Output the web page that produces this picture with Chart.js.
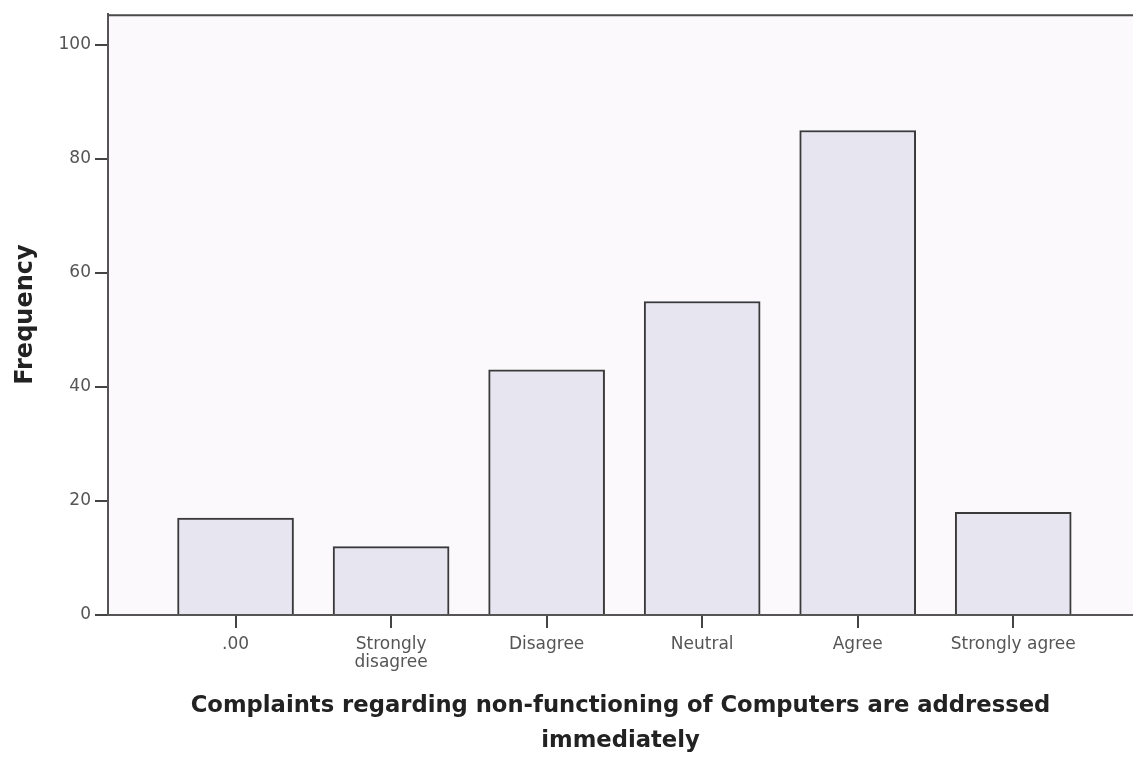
<!DOCTYPE html>
<html>
<head>
<meta charset="utf-8">
<script src="https://cdn.jsdelivr.net/npm/chart.js@4"></script>
<style>
    html, body { margin: 0; padding: 0; background: #ffffff; }
    #wrap { width: 1133px; height: 758px; }
</style>
</head>
<body>
<div id="wrap"><canvas id="chartCanvas"></canvas></div>
<script>
// values
const categories = [".00", "Strongly disagree", "Disagree", "Neutral", "Agree", "Strongly agree"];
const tickLabels = [".00", ["Strongly", "disagree"], "Disagree", "Neutral", "Agree", "Strongly agree"];
const frequency = [17, 12, 43, 55, 85, 18];
const yTicks = [0, 20, 40, 60, 80, 100];

const xTitle = ["Complaints regarding non-functioning of Computers are addressed", "immediately"];
const yTitle = "Frequency";

// plot background + top frame line, like the SPSS output
const frame = {
    id: "frame",
    beforeDraw(chart) {
        const { ctx, chartArea } = chart;
        ctx.save();
        ctx.fillStyle = "#fbf9fc";
        ctx.fillRect(chartArea.left, chartArea.top, chartArea.right - chartArea.left, chartArea.bottom - chartArea.top);
        ctx.restore();
    },
    afterDraw(chart) {
        const { ctx, chartArea } = chart;
        ctx.save();
        ctx.strokeStyle = "#4a4a4a";
        ctx.lineWidth = 2;
        ctx.beginPath();
        ctx.moveTo(chartArea.left, chartArea.top + 1);
        ctx.lineTo(chartArea.right, chartArea.top + 1);
        ctx.stroke();
        ctx.restore();
    }
};

const ctx = document.getElementById("chartCanvas").getContext("2d");
new Chart(ctx, {
    type: "bar",
    data: {
        datasets: [{
            label: yTitle,
            data: categories.map((c, i) => ({ x: i + 1, y: frequency[i] })),
            backgroundColor: "#e7e5f0",
            borderColor: "#3a3a3a",
            borderWidth: 2,
            borderSkipped: "bottom",
            barThickness: 116
        }]
    },
    options: {
        responsive: true,
        maintainAspectRatio: false,
        animation: false,
        layout: { padding: { top: 12, left: 0, right: 0, bottom: 0 } },
        plugins: {
            legend: { display: false },
            tooltip: { enabled: false }
        },
        scales: {
            x: {
                type: "linear",
                offset: false,
                min: 0.18,
                max: 6.77,
                afterBuildTicks(scale) {
                    scale.ticks = categories.map((c, i) => ({ value: i + 1 }));
                },
                afterFit(scale) {
                    scale.height = 143;
                },
                grid: {
                    offset: false,
                    drawOnChartArea: false,
                    drawTicks: true,
                    tickLength: 13,
                    color: "#444444",
                    lineWidth: 2
                },
                border: { display: true, color: "#555555", width: 2 },
                ticks: {
                    autoSkip: false,
                    maxRotation: 0,
                    padding: 7,
                    color: "#555555",
                    font: { family: "DejaVu Sans", size: 17, lineHeight: 1.1 },
                    callback: (v) => tickLabels[v - 1]
                },
                title: {
                    display: true,
                    text: xTitle,
                    color: "#222222",
                    padding: { top: 0, bottom: 0 },
                    font: { family: "DejaVu Sans", size: 22.7, weight: "bold", lineHeight: 1.52 }
                }
            },
            y: {
                min: 0,
                max: 105.4,
                afterBuildTicks(scale) {
                    scale.ticks = yTicks.map(v => ({ value: v }));
                },
                afterFit(scale) {
                    scale.width = 108;
                },
                grid: {
                    drawOnChartArea: false,
                    drawTicks: true,
                    tickLength: 13,
                    color: "#444444",
                    lineWidth: 2
                },
                border: { display: true, color: "#555555", width: 2 },
                ticks: {
                    padding: 4,
                    color: "#555555",
                    font: { family: "DejaVu Sans", size: 17 }
                },
                title: {
                    display: true,
                    text: yTitle,
                    color: "#222222",
                    padding: { top: 11, bottom: 0 },
                    font: { family: "DejaVu Sans", size: 24, weight: "bold", lineHeight: 1.2 }
                }
            }
        }
    },
    plugins: [frame]
});
</script>
</body>
</html>
